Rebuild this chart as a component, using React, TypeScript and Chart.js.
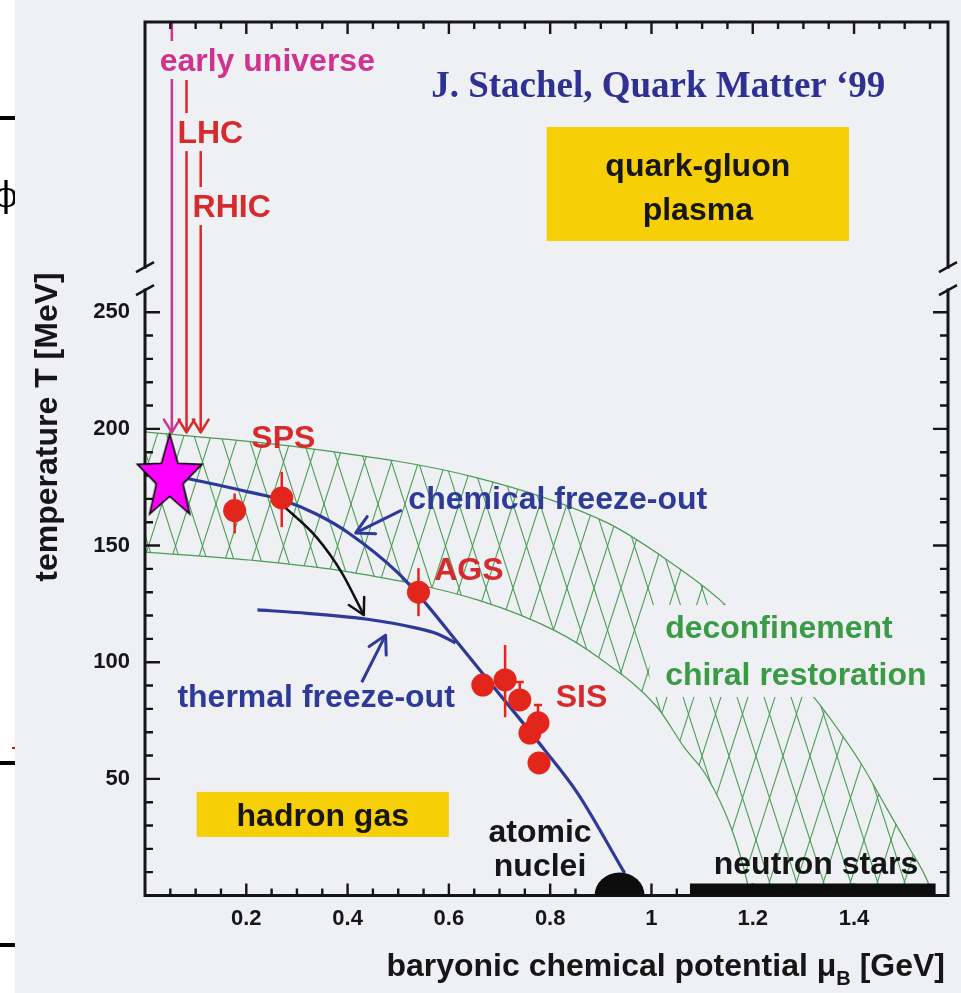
import { useEffect, useRef } from 'react';
import { Chart, registerables } from 'chart.js';

Chart.register(...registerables);

const WIDTH = 961;
const HEIGHT = 993;

// axis extents: baryonic chemical potential (GeV) and temperature (MeV)
const MU_MAX = 1.5855;
const T_MAX = 374.4;
const T_BREAK_LOW = 259.5;
const T_BREAK_HIGH = 269.3;

const xTickValues = [0.2, 0.4, 0.6, 0.8, 1, 1.2, 1.4];
const yTickValues = [50, 100, 150, 200, 250];

// deconfinement / chiral restoration band
const bandUpperMu = [0, 0.304, 0.658, 0.913, 1.031, 1.135, 1.32, 1.379, 1.418, 1.463, 1.508, 1.548, 1.554];
const bandUpperT = [198.7, 192.2, 178.9, 159.7, 143.8, 126.7, 85.1, 67.9, 55.1, 38.0, 20.8, 4.5, 0];
const bandLowerMu = [0, 0.206, 0.402, 0.658, 0.815, 0.894, 1.011, 1.064, 1.11, 1.159, 1.188, 1.194];
const bandLowerT = [147.2, 143.8, 138.7, 126.6, 112.9, 102.2, 80.8, 63.7, 50.8, 28.1, 6.7, 0];

// chemical freeze-out curve
const chemMu = [0.05, 0.088, 0.206, 0.271, 0.338, 0.402, 0.5, 0.56, 0.613, 0.677, 0.789, 0.854, 0.947];
const chemT = [180, 178.5, 172.9, 169.5, 163.5, 155.4, 138.2, 123.7, 109.5, 92.4, 62.4, 43.9, 9.6];

// thermal freeze-out curve
const thermMu = [0.222, 0.3, 0.436, 0.534, 0.579, 0.613];
const thermT = [122.4, 121.3, 118.5, 114.7, 112, 108.2];

// expansion path from chemical to thermal freeze-out
const coolMu = [0.271, 0.338, 0.389, 0.432];
const coolT = [167.4, 153.7, 138.2, 120.2];

// freeze-out points (SPS, AGS, SIS)
const pointMu = [0.177, 0.27, 0.54, 0.667, 0.711, 0.74, 0.776, 0.76, 0.778];
const pointT = [165, 170.4, 130, 90.2, 92.4, 83.8, 74, 69.6, 56.8];
const errUp = [7.3, 11.2, 10.3, 0, 15, 7.7, 7.7, 0, 0];
const errDown = [9.8, 12.5, 10.3, 0, 16, 3, 3, 0, 0];
const errCap = [false, false, false, false, false, true, true, false, false];

// star marker
const starMu = [0.0487];
const starT = [178.9];

// trajectories coming down from the top: early universe, LHC, RHIC
const beamMu = [0.053, 0.082, 0.11];
const beamTopT = [374.4, 349.5, 319.5];
const beamTipT = 198.5;

// pointer arrows for the curve labels
const chemPointerMu = [0.507, 0.416];
const chemPointerT = [165.2, 155.4];
const thermPointerMu = [0.428, 0.475];
const thermPointerT = [91.4, 111.6];

// ground-state nuclei and neutron stars
const nucleiMu = 0.937;
const neutronStarMu = [1.076, 1.561];

// colours
const BG = '#eef0f3';
const GREEN = '#4c9b55';
const GREEN_TXT = '#3a9a46';
const BLUE = '#2d3a98';
const RED = '#e2261c';
const RED_TXT = '#d62a2c';
const MAGENTA = '#d0338f';
const YELLOW = '#f6cf06';
const NAVY = '#2e3192';
const INK = '#161616';

const SANS = '"Liberation Sans", Arial, Helvetica, sans-serif';
const SERIF = '"Liberation Serif", "Times New Roman", serif';

type Label = { text: string; mu: number; t: number; color: string; align?: CanvasTextAlign; mask?: boolean };

const labels: Label[] = [
  { text: 'early universe', mu: 0.029, t: 353.4, color: MAGENTA, mask: true },
  { text: 'LHC', mu: 0.064, t: 322.5, color: RED_TXT, mask: true },
  { text: 'RHIC', mu: 0.094, t: 290.8, color: RED_TXT, mask: true },
  { text: 'SPS', mu: 0.21, t: 191.8, color: RED_TXT },
  { text: 'chemical freeze-out', mu: 0.52, t: 165.7, color: BLUE },
  { text: 'AGS', mu: 0.571, t: 135.2, color: RED_TXT },
  { text: 'thermal freeze-out', mu: 0.064, t: 80.8, color: BLUE },
  { text: 'SIS', mu: 0.811, t: 80.8, color: RED_TXT },
  { text: 'deconfinement', mu: 1.027, t: 110.4, color: GREEN_TXT },
  { text: 'chiral restoration', mu: 1.027, t: 90.2, color: GREEN_TXT },
  { text: 'atomic', mu: 0.78, t: 22.9, color: INK, align: 'center' },
  { text: 'nuclei', mu: 0.78, t: 8.4, color: INK, align: 'center' },
  { text: 'neutron stars', mu: 1.123, t: 9.2, color: INK },
];

// yellow region boxes: [muMin, muMax, tMin, tMax]
const qgpBox = [0.793, 1.39, 280.5, 329.4];
const hadronBox = [0.102, 0.6, 25.1, 44.4];
// clear area behind the band label
const bandLabelMask = [0.996, 1.571, 85.1, 124.5];

const pts = (xs: number[], ys: number[]) => xs.map((x, i) => ({ x, y: ys[i] }));

function makeHatch(): CanvasPattern | string {
  const w = 27, h = 84;
  const c = document.createElement('canvas');
  c.width = w; c.height = h;
  const g = c.getContext('2d');
  if (!g) return GREEN;
  g.strokeStyle = GREEN;
  g.lineWidth = 1.1;
  for (const ox of [-w, 0, w]) {
    for (const oy of [-h, 0, h]) {
      g.beginPath(); g.moveTo(ox, oy); g.lineTo(ox + w, oy + h); g.stroke();
      g.beginPath(); g.moveTo(ox + w, oy); g.lineTo(ox, oy + h); g.stroke();
    }
  }
  return g.createPattern(c, 'repeat') || GREEN;
}

function makeStar(): HTMLCanvasElement {
  const c = document.createElement('canvas');
  c.width = 80; c.height = 100;
  const g = c.getContext('2d');
  if (!g) return c;
  const cx = 40, cy = 50, R = 34, r = 14, sy = 1.3;
  g.beginPath();
  for (let k = 0; k < 10; k++) {
    const a = -Math.PI / 2 + (k * Math.PI) / 5;
    const rad = k % 2 === 0 ? R : r;
    const x = cx + rad * Math.cos(a);
    const y = cy + rad * Math.sin(a) * sy;
    if (k === 0) g.moveTo(x, y); else g.lineTo(x, y);
  }
  g.closePath();
  g.fillStyle = '#ff00ff';
  g.fill();
  g.lineWidth = 1.6;
  g.strokeStyle = '#000';
  g.stroke();
  return c;
}

function arrowHead(ctx: CanvasRenderingContext2D, x: number, y: number, ang: number, len: number, spread: number, color: string, width: number) {
  ctx.save();
  ctx.strokeStyle = color;
  ctx.lineWidth = width;
  ctx.lineCap = 'round';
  ctx.lineJoin = 'round';
  ctx.beginPath();
  ctx.moveTo(x - len * Math.cos(ang - spread), y - len * Math.sin(ang - spread));
  ctx.lineTo(x, y);
  ctx.lineTo(x - len * Math.cos(ang + spread), y - len * Math.sin(ang + spread));
  ctx.stroke();
  ctx.restore();
}

function endAngle(chart: any, index: number): { x: number; y: number; a: number } {
  const els = chart.getDatasetMeta(index).data as any[];
  const tip = els[els.length - 1];
  const prev = els[els.length - 2];
  let bx = tip.cp1x, by = tip.cp1y;
  if (bx === undefined || (Math.abs(bx - tip.x) < 0.5 && Math.abs(by - tip.y) < 0.5)) {
    bx = prev.x; by = prev.y;
  }
  return { x: tip.x, y: tip.y, a: Math.atan2(tip.y - by, tip.x - bx) };
}

// dataset indices
const IDX_STAR = 0;
const IDX_POINTS = 1;
const IDX_COOL = 2;
const IDX_CHEM_PTR = 5;
const IDX_THERM_PTR = 6;
const IDX_BEAM0 = 7;

function drawFrame(chart: any) {
  const { ctx, chartArea: a } = chart;
  const x = chart.scales.x, y = chart.scales.y;
  const yBh = y.getPixelForValue(T_BREAK_HIGH);
  const yBl = y.getPixelForValue(T_BREAK_LOW);
  ctx.save();
  ctx.strokeStyle = INK;
  ctx.lineWidth = 3;
  ctx.lineCap = 'square';
  ctx.beginPath();
  ctx.moveTo(a.left, yBh); ctx.lineTo(a.left, a.top); ctx.lineTo(a.right, a.top); ctx.lineTo(a.right, yBh);
  ctx.moveTo(a.left, yBl); ctx.lineTo(a.left, a.bottom); ctx.lineTo(a.right, a.bottom); ctx.lineTo(a.right, yBl);
  ctx.stroke();
  ctx.lineCap = 'butt';
  ctx.lineWidth = 2.5;
  for (const xx of [a.left, a.right]) {
    for (const yy of [yBh, yBl]) {
      ctx.beginPath(); ctx.moveTo(xx - 9, yy + 5); ctx.lineTo(xx + 9, yy - 5); ctx.stroke();
    }
  }
  ctx.lineWidth = 2.4;
  for (let i = 1; i * 0.05 < MU_MAX - 0.01; i++) {
    const px = x.getPixelForValue(i * 0.05);
    const len = i % 4 === 0 ? 12 : 7;
    ctx.beginPath();
    ctx.moveTo(px, a.bottom); ctx.lineTo(px, a.bottom - len);
    ctx.moveTo(px, a.top); ctx.lineTo(px, a.top + len);
    ctx.stroke();
  }
  for (let t = 10; t < T_BREAK_LOW; t += 10) {
    const py = y.getPixelForValue(t);
    const len = t % 50 === 0 ? 15 : 8;
    ctx.beginPath();
    ctx.moveTo(a.left, py); ctx.lineTo(a.left + len, py);
    ctx.moveTo(a.right, py); ctx.lineTo(a.right - len, py);
    ctx.stroke();
  }
  ctx.restore();
}

function drawErrorBars(chart: any) {
  const { ctx } = chart;
  const x = chart.scales.x, y = chart.scales.y;
  ctx.save();
  ctx.strokeStyle = RED;
  ctx.lineWidth = 2.5;
  pointMu.forEach((mu, i) => {
    if (!errUp[i] && !errDown[i]) return;
    const px = x.getPixelForValue(mu);
    const top = y.getPixelForValue(pointT[i] + errUp[i]);
    const bot = y.getPixelForValue(pointT[i] - errDown[i]);
    ctx.beginPath();
    ctx.moveTo(px, top); ctx.lineTo(px, bot);
    if (errCap[i]) {
      ctx.moveTo(px - 4, top); ctx.lineTo(px + 4, top);
    }
    ctx.stroke();
  });
  ctx.restore();
}

const phasePlugin = {
  id: 'phaseDiagram',
  beforeDraw(chart: any) {
    const { ctx } = chart;
    ctx.save();
    ctx.fillStyle = '#ffffff';
    ctx.fillRect(0, 0, WIDTH, HEIGHT);
    // slide edge marks on the far left
    ctx.fillStyle = '#000';
    ctx.font = '36px "DejaVu Serif", serif';
    ctx.textAlign = 'center';
    ctx.textBaseline = 'alphabetic';
    ctx.fillText('\u03d5', 6, 207);
    ctx.fillRect(0, 116, 15, 4);
    ctx.fillRect(0, 761, 15, 4);
    ctx.fillRect(0, 943, 15, 4);
    ctx.fillStyle = '#e01010';
    ctx.fillRect(12, 747, 3, 2);
    ctx.fillStyle = BG;
    ctx.fillRect(15, 0, WIDTH - 15, HEIGHT);
    ctx.restore();
  },
  beforeDatasetDraw(chart: any, args: any) {
    if (args.index === IDX_POINTS) drawErrorBars(chart);
    if (args.index === IDX_STAR) drawFrame(chart);
  },
  afterDatasetsDraw(chart: any) {
    const { ctx } = chart;
    const x = chart.scales.x, y = chart.scales.y;
    const X = (v: number) => x.getPixelForValue(v);
    const Y = (v: number) => y.getPixelForValue(v);
    ctx.save();

    // atomic nuclei dome and neutron star bar on the axis
    ctx.fillStyle = '#0d0d0d';
    ctx.beginPath();
    ctx.ellipse(X(nucleiMu), Y(0), 25, 23, 0, Math.PI, 2 * Math.PI);
    ctx.closePath();
    ctx.fill();
    ctx.fillRect(X(neutronStarMu[0]), Y(0) - 12, X(neutronStarMu[1]) - X(neutronStarMu[0]), 12);

    // arrowheads
    let e = endAngle(chart, IDX_COOL);
    arrowHead(ctx, e.x, e.y, e.a, 18, 0.5, '#111', 2.5);
    e = endAngle(chart, IDX_CHEM_PTR);
    arrowHead(ctx, e.x, e.y, e.a, 20, 0.5, BLUE, 3);
    e = endAngle(chart, IDX_THERM_PTR);
    arrowHead(ctx, e.x, e.y, e.a, 20, 0.5, BLUE, 3);
    [MAGENTA, RED_TXT, RED_TXT].forEach((c, k) => {
      const b = endAngle(chart, IDX_BEAM0 + k);
      arrowHead(ctx, b.x, b.y, b.a, 15, 0.55, c, 2.5);
    });

    // yellow region boxes
    ctx.fillStyle = YELLOW;
    for (const b of [qgpBox, hadronBox]) {
      ctx.fillRect(X(b[0]), Y(b[3]), X(b[1]) - X(b[0]), Y(b[2]) - Y(b[3]));
    }
    ctx.fillStyle = BG;
    ctx.fillRect(X(bandLabelMask[0]), Y(bandLabelMask[3]), X(bandLabelMask[1]) - X(bandLabelMask[0]), Y(bandLabelMask[2]) - Y(bandLabelMask[3]));

    ctx.font = `bold 32px ${SANS}`;
    ctx.textBaseline = 'alphabetic';
    ctx.fillStyle = INK;
    ctx.textAlign = 'center';
    const qc = (qgpBox[0] + qgpBox[1]) / 2;
    ctx.fillText('quark-gluon', X(qc), Y(308.4));
    ctx.fillText('plasma', X(qc), Y(289.5));
    ctx.fillText('hadron gas', X((hadronBox[0] + hadronBox[1]) / 2), Y(29.8));

    for (const l of labels) {
      ctx.textAlign = l.align || 'left';
      const px = X(l.mu), py = Y(l.t);
      if (l.mask) {
        const w = ctx.measureText(l.text).width;
        const left = l.align === 'center' ? px - w / 2 : px;
        ctx.fillStyle = BG;
        ctx.fillRect(left - 2, py - 30, w + 4, 38);
      }
      ctx.fillStyle = l.color;
      ctx.fillText(l.text, px, py);
    }

    // reference line
    ctx.font = `bold 37px ${SERIF}`;
    ctx.fillStyle = NAVY;
    ctx.textAlign = 'left';
    ctx.fillText('J. Stachel, Quark Matter \u201899', X(0.565), Y(342.2));

    // axis titles
    ctx.fillStyle = INK;
    ctx.font = `bold 32px ${SANS}`;
    const partA = 'baryonic chemical potential \u03bc';
    const partB = ' [GeV]';
    const wA = ctx.measureText(partA).width;
    const wB = ctx.measureText(partB).width;
    ctx.font = `bold 20px ${SANS}`;
    const wS = ctx.measureText('B').width;
    const start = 945 - (wA + wS + wB);
    ctx.textAlign = 'left';
    ctx.font = `bold 32px ${SANS}`;
    ctx.fillText(partA, start, 976);
    ctx.fillText(partB, start + wA + wS, 976);
    ctx.font = `bold 20px ${SANS}`;
    ctx.fillText('B', start + wA, 985);

    ctx.font = `bold 32px ${SANS}`;
    ctx.translate(57, 427);
    ctx.rotate(-Math.PI / 2);
    ctx.textAlign = 'center';
    ctx.fillText('temperature T [MeV]', 0, 0);
    ctx.restore();
  },
};

export default function App() {
  const ref = useRef<HTMLCanvasElement>(null);

  useEffect(() => {
    const canvas = ref.current;
    if (!canvas) return;
    const hatch = makeHatch();
    const star = makeStar();
    const curve = { pointRadius: 0, cubicInterpolationMode: 'monotone' as const, fill: false };
    const straight = { pointRadius: 0, tension: 0, fill: false };

    const datasets: any[] = [
      { data: pts(starMu, starT), showLine: false, pointStyle: star, pointRadius: 12, clip: false, order: 0 },
      { data: pts(pointMu, pointT), showLine: false, pointRadius: 11.5, pointBackgroundColor: RED, pointBorderWidth: 0, order: 1 },
      { data: pts(coolMu, coolT), borderColor: '#111', borderWidth: 2.5, ...curve, order: 2 },
      { data: pts(chemMu, chemT), borderColor: BLUE, borderWidth: 3.2, ...curve, order: 3 },
      { data: pts(thermMu, thermT), borderColor: BLUE, borderWidth: 3.2, ...curve, order: 3 },
      { data: pts(chemPointerMu, chemPointerT), borderColor: BLUE, borderWidth: 3, ...straight, order: 3 },
      { data: pts(thermPointerMu, thermPointerT), borderColor: BLUE, borderWidth: 3, ...straight, order: 3 },
      { data: [{ x: beamMu[0], y: beamTopT[0] }, { x: beamMu[0], y: beamTipT }], borderColor: MAGENTA, borderWidth: 2.5, ...straight, order: 4 },
      { data: [{ x: beamMu[1], y: beamTopT[1] }, { x: beamMu[1], y: beamTipT }], borderColor: RED_TXT, borderWidth: 2.5, ...straight, order: 4 },
      { data: [{ x: beamMu[2], y: beamTopT[2] }, { x: beamMu[2], y: beamTipT }], borderColor: RED_TXT, borderWidth: 2.5, ...straight, order: 4 },
      { data: pts(bandLowerMu, bandLowerT), borderColor: GREEN, borderWidth: 1.2, ...curve, order: 9 },
      {
        data: pts(bandUpperMu, bandUpperT), borderColor: GREEN, borderWidth: 1.2, pointRadius: 0,
        cubicInterpolationMode: 'monotone', fill: '+1', backgroundColor: hatch, order: 10,
      },
      {
        data: pts(bandLowerMu, bandLowerT).concat([{ x: bandUpperMu[bandUpperMu.length - 1], y: 0 }]),
        borderColor: 'rgba(0,0,0,0)', borderWidth: 0, pointRadius: 0, cubicInterpolationMode: 'monotone', fill: false, order: 11,
      },
    ];

    const tickFont = { family: SANS, size: 22, weight: 'bold' as const };

    const chart = new Chart(canvas, {
      type: 'line',
      data: { datasets },
      plugins: [phasePlugin],
      options: {
        animation: false,
        responsive: false,
        devicePixelRatio: 1,
        events: [],
        layout: { padding: { left: 0, right: 9, top: 22, bottom: 0 } },
        plugins: { legend: { display: false }, tooltip: { enabled: false } },
        scales: {
          x: {
            type: 'linear',
            min: 0,
            max: MU_MAX,
            grid: { display: false, drawTicks: false },
            border: { display: false },
            afterFit: (s: any) => { s.height = HEIGHT - 895.5; s.paddingLeft = 0; s.paddingRight = 0; },
            afterBuildTicks: (s: any) => { s.ticks = xTickValues.map((v) => ({ value: v })); },
            ticks: {
              padding: 10,
              color: INK,
              font: tickFont,
              maxRotation: 0,
              autoSkip: false,
              callback: (v: any) => (Number(v) === 1 ? '1' : Number(v).toFixed(1)),
            },
          },
          y: {
            type: 'linear',
            min: 0,
            max: T_MAX,
            grid: { display: false, drawTicks: false },
            border: { display: false },
            afterFit: (s: any) => { s.width = 145; s.paddingTop = 0; s.paddingBottom = 0; },
            afterBuildTicks: (s: any) => { s.ticks = yTickValues.map((v) => ({ value: v })); },
            ticks: { padding: 15, color: INK, font: tickFont, autoSkip: false, callback: (v: any) => String(v) },
          },
        },
      } as any,
    });
    return () => chart.destroy();
  }, []);

  return (
    <div style={{ position: 'fixed', left: 0, top: 0, width: WIDTH, height: HEIGHT, background: '#fff' }}>
      <canvas ref={ref} width={WIDTH} height={HEIGHT} style={{ display: 'block', width: WIDTH, height: HEIGHT }} />
    </div>
  );
}
